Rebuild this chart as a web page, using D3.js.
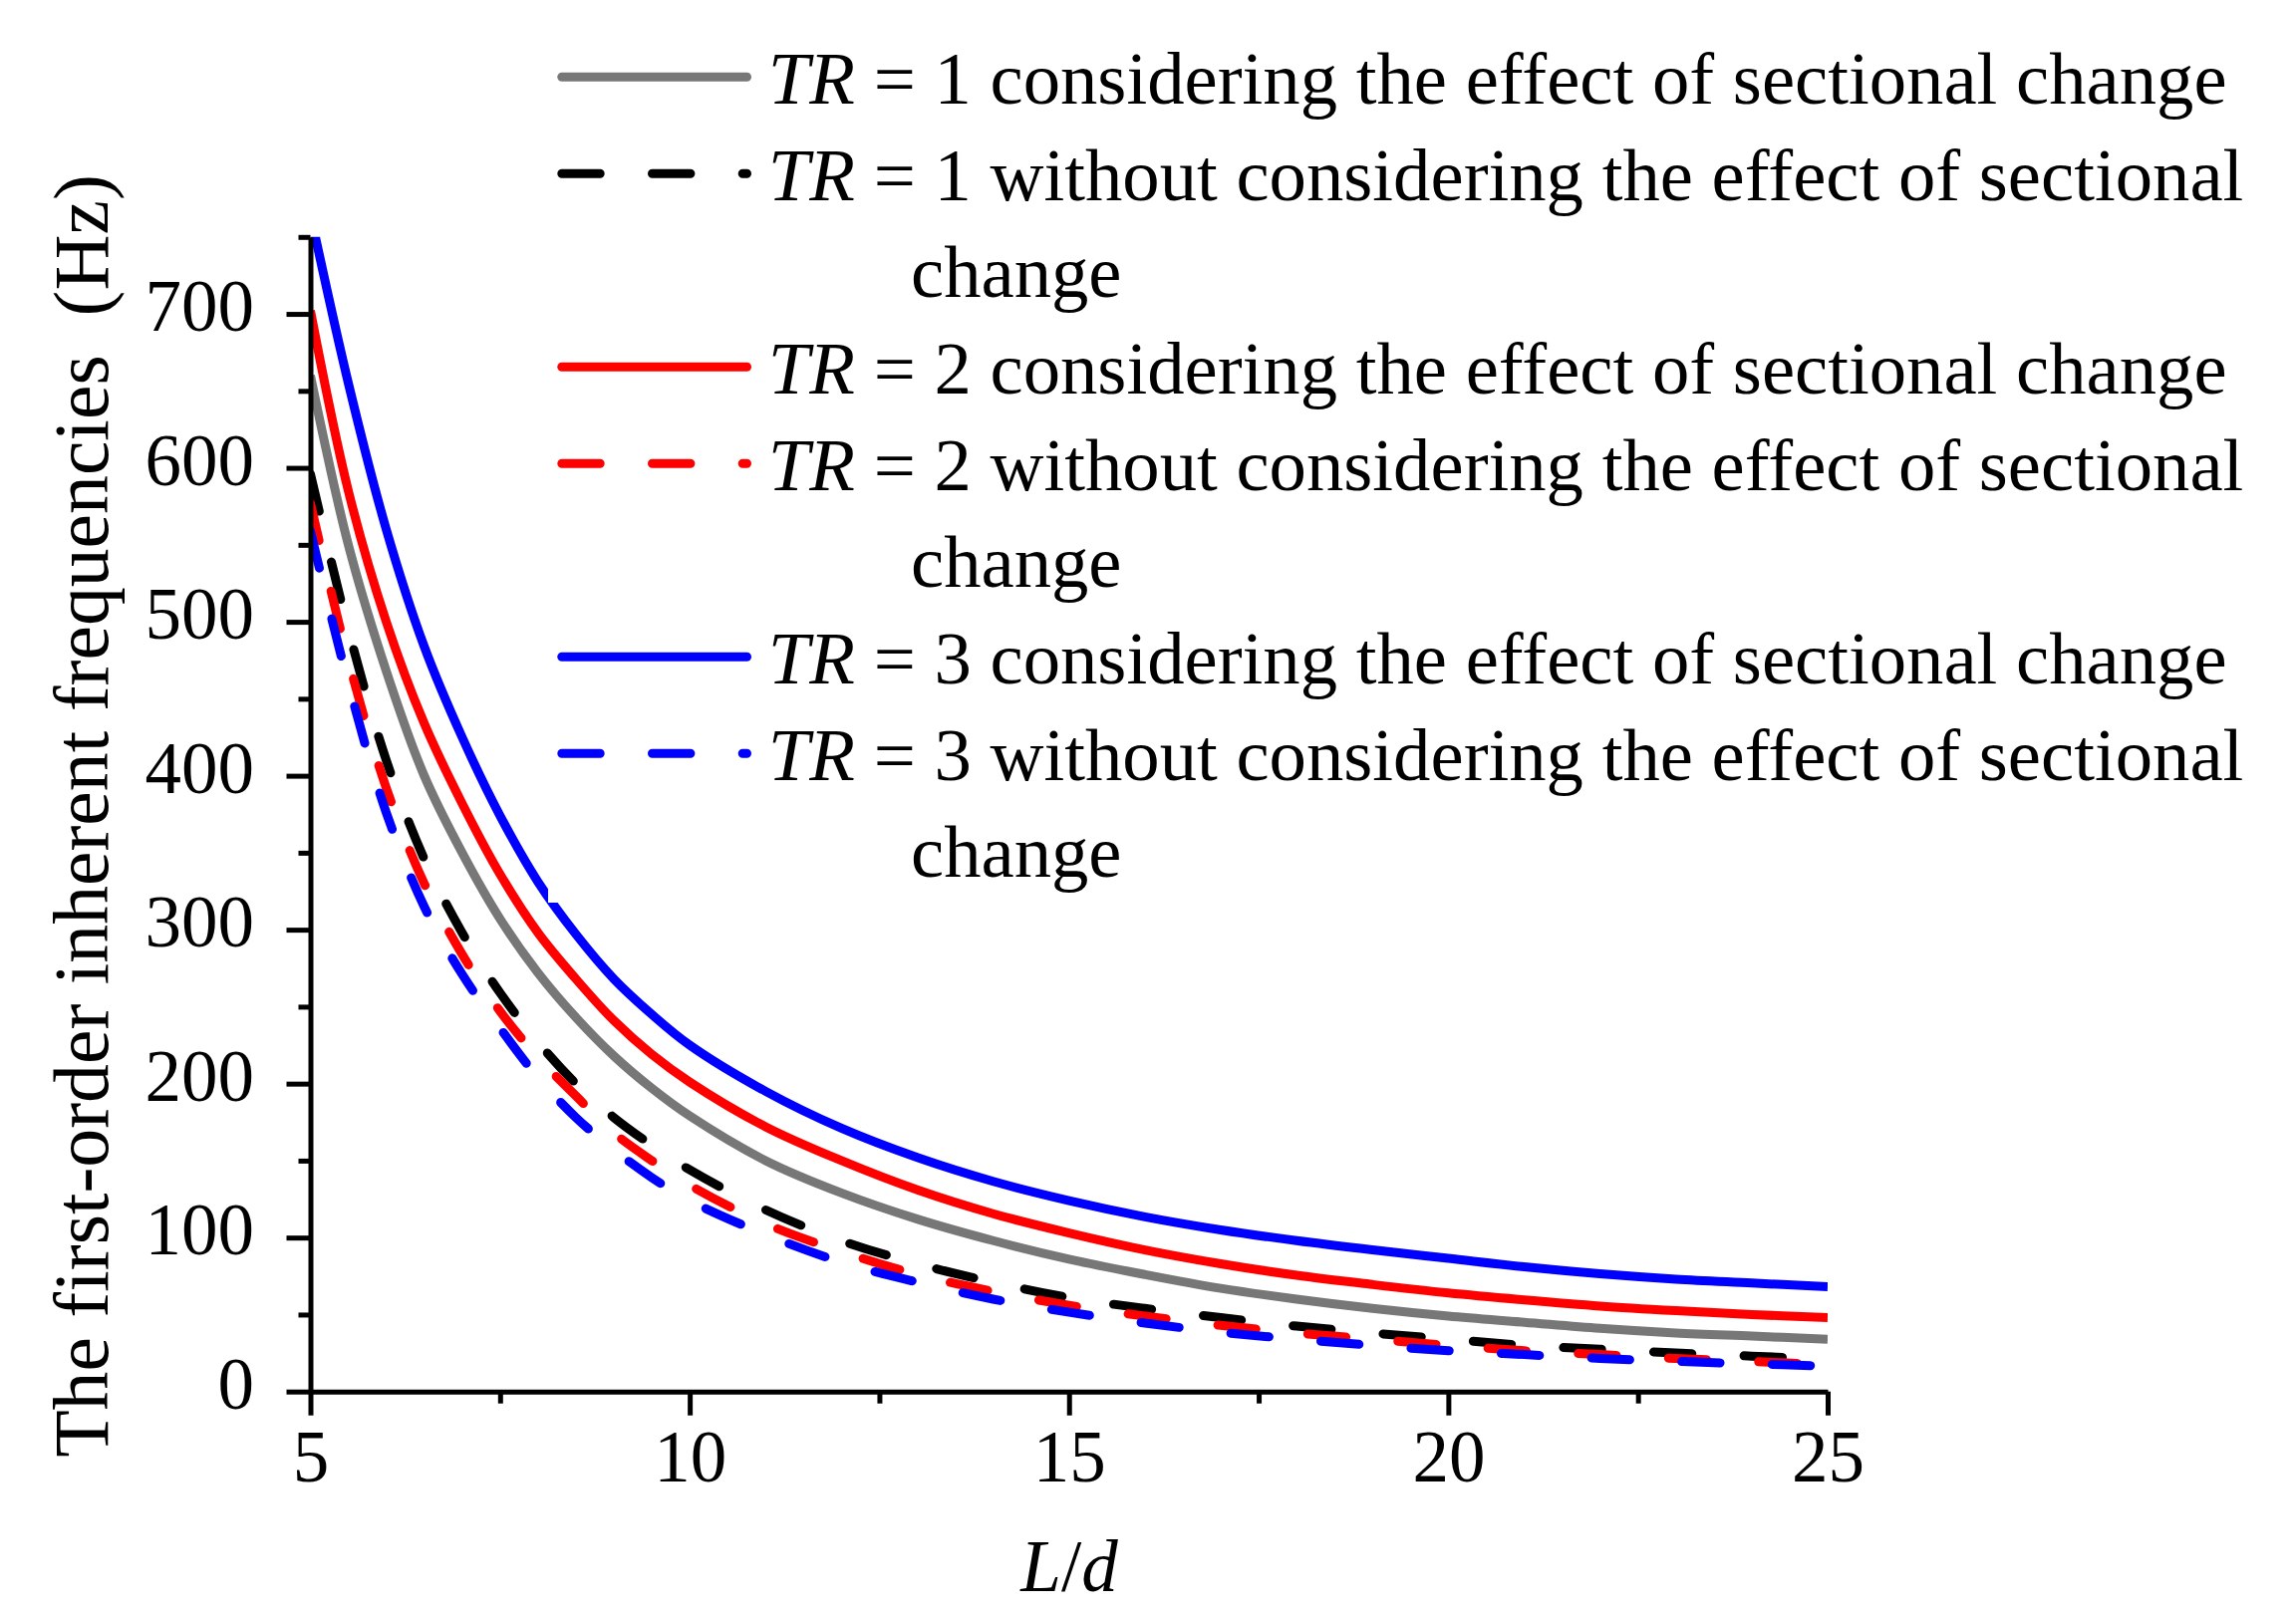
<!DOCTYPE html>
<html><head><meta charset="utf-8">
<script src="https://cdn.jsdelivr.net/npm/d3@7"></script>
<style>
body{margin:0;background:#fff}
text{font-family:"Liberation Serif","Times New Roman",serif;fill:#000}
</style>
</head><body>
<svg id="chart" width="2304" height="1619"></svg>
<script>
// ---------- data ----------
const ld = [5,5.5,6,6.5,7,7.5,8,8.5,9,9.5,10,11,12,13,14,15,16,17,18,19,20,21,22,23,24,25];
const tr1With    = [660,550,468,400,350,307,272,243,218,197,179,150,129,112,98,86,76,67,60,54,49,45,41,38,36,34];
const tr1Without = [596,495,410,346,298,259,227,200,178,160,144,118,98,83,71,61,54,48,42.5,38,34,30,27.5,25,23,21];
const tr2With    = [702,585,500,434,382,336,298,268,241,219,201,172,150,131,115.5,103,92,83,75.5,69.5,64,59.5,55.5,52.5,50,48];
const tr2Without = [577,475,392,330,284,247,217,192,168,150,134,109,91,76,65,56,49,43,38,34,30,26.5,24,21.5,19.5,17.5];
const tr3With    = [765,655,560,484,425,374,331,297,268,245,225,195,171,152,136.5,124,113.5,105,98,92,86.5,81,76.5,73,70.5,68];
const tr3Without = [559,460,376,315,271,236,204,178,157,139,124,102,84,71,60,51.5,44.5,38.5,34,30,26.5,24,21.5,19.6,18,16.5];

const seriesNames = [
  "= 1 considering the effect of sectional change",
  "= 1 without considering the effect of sectional",
  "= 2 considering the effect of sectional change",
  "= 2 without considering the effect of sectional",
  "= 3 considering the effect of sectional change",
  "= 3 without considering the effect of sectional"
];
const seriesValues = [tr1With, tr1Without, tr2With, tr2Without, tr3With, tr3Without];
const seriesColors = ["#777777", "#000000", "#ff0000", "#ff0000", "#0000ff", "#0000ff"];
const seriesDashed = [false, true, false, true, false, true];
const wrapWord = "change";

const xMajor = [5,10,15,20,25];
const xMinor = [7.5,12.5,17.5,22.5];
const yMajor = [0,100,200,300,400,500,600,700];
const yMinor = [50,150,250,350,450,550,650,750];

const yTitle = "The first-order inherent frequencies\u00A0 (Hz)";

// ---------- layout ----------
const svg = d3.select("#chart");
const X0 = 311.5, X1 = 1834, Y0 = 1396.7, Y1 = 237.8;
const x = d3.scaleLinear().domain([5,25]).range([X0,X1]);
const y = d3.scaleLinear().domain([0,750]).range([Y0,Y1]);
const LW = 9, DASH = "38.4,52.3";

svg.append("defs").append("clipPath").attr("id","plotclip")
  .append("rect").attr("x",X0).attr("y",Y1).attr("width",X1-X0).attr("height",Y0-Y1);

// curves
const line = d3.line().x(d=>x(d[0])).y(d=>y(d[1])).curve(d3.curveCatmullRom.alpha(0.5));
const gCurves = svg.append("g").attr("clip-path","url(#plotclip)");
seriesValues.forEach((vals,i)=>{
  gCurves.append("path")
    .datum(ld.map((v,j)=>[v, vals[j]]))
    .attr("d", line)
    .attr("fill","none")
    .attr("stroke", seriesColors[i])
    .attr("stroke-width", LW)
    .attr("stroke-linecap", seriesDashed[i] ? "round" : "butt")
    .attr("stroke-dasharray", seriesDashed[i] ? DASH : null);
});

// legend background (covers part of the blue curve as in the reference)
svg.append("rect").attr("x",550).attr("y",0).attr("width",2304-550).attr("height",906).attr("fill","#fff");

// axes
function styleAxis(g){
  g.selectAll("path.domain").attr("stroke","#000").attr("stroke-width",5);
  g.selectAll(".tick line").attr("stroke","#000").attr("stroke-width",5);
  g.selectAll("text").attr("font-family",'"Liberation Serif","Times New Roman",serif').attr("font-size",73).attr("fill","#000");
}
const gxMinor = svg.append("g").attr("transform",`translate(0,${Y0})`)
  .call(d3.axisBottom(x).tickValues(xMinor).tickSize(12).tickFormat(""));
gxMinor.select(".domain").remove();
styleAxis(gxMinor);
const gx = svg.append("g").attr("transform",`translate(0,${Y0})`)
  .call(d3.axisBottom(x).tickValues(xMajor).tickSize(24).tickSizeOuter(0).tickPadding(0).tickFormat(d3.format("d")));
styleAxis(gx);
gx.selectAll("text").attr("y",90).attr("dy",0);

const gyMinor = svg.append("g").attr("transform",`translate(${X0},0)`)
  .call(d3.axisLeft(y).tickValues(yMinor).tickSize(12).tickFormat(""));
gyMinor.select(".domain").remove();
styleAxis(gyMinor);
const gy = svg.append("g").attr("transform",`translate(${X0},0)`)
  .call(d3.axisLeft(y).tickValues(yMajor).tickSize(24).tickSizeOuter(0).tickFormat(d3.format("d")));
styleAxis(gy);
gy.selectAll("text").attr("x",-56.5).attr("dy","0.229em");
gy.select(".domain").attr("stroke-linecap","butt");

// axis titles
const yt = svg.append("text").attr("transform","translate(108,819) rotate(-90)")
  .attr("text-anchor","middle").attr("font-size",70).text(yTitle);
const ytw = yt.node().getComputedTextLength();
yt.attr("font-size", 70*1288/ytw);

const xt = svg.append("text").attr("x",1073).attr("y",1597).attr("text-anchor","middle").attr("font-size",73);
xt.append("tspan").attr("font-style","italic").text("L");
xt.append("tspan").text("/");
xt.append("tspan").attr("font-style","italic").text("d");

// legend
const rowY = k => 77.3 + k*97;
const rowsK = [0,1,3,4,6,7];
const legendTexts = [];
seriesNames.forEach((name,i)=>{
  const ry = rowY(rowsK[i]);
  svg.append("line").attr("x1",563.8).attr("x2",749.5).attr("y1",ry).attr("y2",ry)
    .attr("stroke",seriesColors[i]).attr("stroke-width",LW)
    .attr("stroke-linecap","round")
    .attr("stroke-dasharray", seriesDashed[i] ? DASH : null);
  const t = svg.append("text").attr("x",770.8).attr("y",ry+27).attr("font-size",66);
  t.append("tspan").attr("font-style","italic").text("TR");
  t.append("tspan").text(" " + name);
  legendTexts.push(t);
  if (seriesDashed[i]) {
    const t2 = svg.append("text").attr("x",914).attr("y",rowY(rowsK[i]+1)+27).attr("font-size",66).text(wrapWord);
    legendTexts.push(t2);
  }
});
const lw = legendTexts[0].node().getComputedTextLength();
const lfs = 66*1464/lw;
legendTexts.forEach(t=>t.attr("font-size",lfs));
</script>
</body></html>
